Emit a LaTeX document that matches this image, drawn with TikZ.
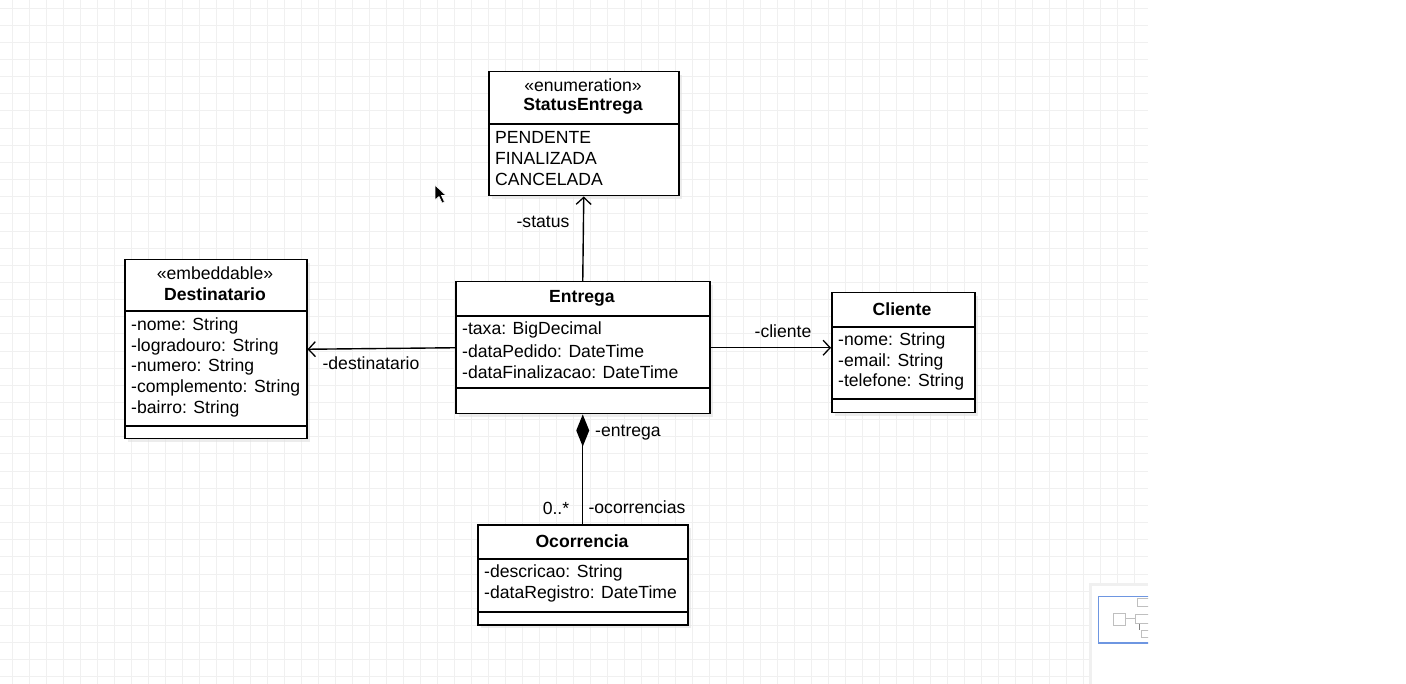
\documentclass[tikz,border=0pt]{standalone}
\usepackage{fontspec}
\setmainfont{Liberation Sans}
\usetikzlibrary{arrows.meta,shadows}

\newcommand{\diagfont}{\fontsize{17.6}{21}\selectfont}

\tikzset{
  gridline/.style={draw=black!6,line width=0.8pt},
  classbox/.style={draw,line width=1.5pt,fill=white,inner sep=0pt,anchor=north west,
    drop shadow={shadow xshift=3pt,shadow yshift=-3pt,fill=black!12,opacity=0.6}},
  sep/.style={line width=1.3pt},
  title/.style={font=\diagfont\bfseries,inner sep=0pt},
  stereo/.style={inner sep=0pt},
  attr/.style={anchor=west,inner sep=0pt},
  lbl/.style={inner sep=0pt},
  assoc/.style={line width=1.4pt,-{Straight Barb[length=7pt,width=15pt,line width=1.3pt]}},
  compo/.style={line width=1.4pt,{Diamond[length=32pt,width=13pt]}-},
}

\begin{document}
\begin{tikzpicture}[x=1pt,y=-1pt,font=\diagfont,line cap=butt,line join=miter]
  \useasboundingbox (0,0) rectangle (1406,684);
  \fill[white] (0,0) rectangle (1406,684);
  % background grid
  \foreach \i in {0,...,66} \draw[gridline] ({12+17*\i},0) -- ({12+17*\i},684);
  \foreach \j in {0,...,39} \draw[gridline] (0,{8+17.15*\j}) -- (1148,{8+17.15*\j});

  % StatusEntrega
  \node[classbox,minimum width=190pt,minimum height=124pt] (status) at (488,71) {};
  \draw[sep] (488,124) -- (678,124);
  \node[stereo] (statusst) at (583,85) {«enumeration»};
  \node[title] (statust) at (583,106) {StatusEntrega};
  \node[attr] (pendente) at (495,137) {PENDENTE};
  \node[attr] (finalizada) at (495,158) {FINALIZADA};
  \node[attr] (cancelada) at (495,179) {CANCELADA};

  % Destinatario
  \node[classbox,minimum width=182pt,minimum height=179pt] (dest) at (124,259) {};
  \draw[sep] (124,311) -- (306,311);
  \draw[sep] (124,426) -- (306,426);
  \node[stereo] (destst) at (215,273) {«embeddable»};
  \node[title] (destt) at (215,294) {Destinatario};
  \node[attr] (dnome) at (131,326) {-nome: String};
  \node[attr] (dlog) at (131,347) {-logradouro: String};
  \node[attr] (dnum) at (131,367) {-numero: String};
  \node[attr] (dcompl) at (131,388) {-complemento: String};
  \node[attr] (dbairro) at (131,409) {-bairro: String};

  % Entrega
  \node[classbox,minimum width=254pt,minimum height=132pt] (entrega) at (455,281) {};
  \draw[sep] (455,316) -- (709,316);
  \draw[sep] (455,388) -- (709,388);
  \node[title] (entregat) at (582,298) {Entrega};
  \node[attr] (etaxa) at (462,330) {-taxa: BigDecimal};
  \node[attr] (epedido) at (462,351) {-dataPedido: DateTime};
  \node[attr] (efinal) at (462,372) {-dataFinalizacao: DateTime};

  % Cliente
  \node[classbox,minimum width=143pt,minimum height=120pt] (cliente) at (831,292) {};
  \draw[sep] (831,327) -- (974,327);
  \draw[sep] (831,399) -- (974,399);
  \node[title] (clientet) at (902,309) {Cliente};
  \node[attr] (cnome) at (838,341) {-nome: String};
  \node[attr] (cemail) at (838,362) {-email: String};
  \node[attr] (ctel) at (838,382) {-telefone: String};

  % Ocorrencia
  \node[classbox,minimum width=210pt,minimum height=100pt] (ocorr) at (477,524) {};
  \draw[sep] (477,559) -- (687,559);
  \draw[sep] (477,612) -- (687,612);
  \node[title] (ocorrt) at (582,541) {Ocorrencia};
  \node[attr] (odesc) at (484,573) {-descricao: String};
  \node[attr] (oreg) at (484,594) {-dataRegistro: DateTime};

  % associations
  \draw[assoc] (entrega.north) -- (status.south);
  \draw[assoc] (entrega.west) -- (dest.east);
  \draw[assoc] (entrega.east) -- (entrega.east -| cliente.west);
  \draw[compo] (entrega.south) -- (ocorr.north);
  \node[lbl] (lstatus) at (543,222) {-status};
  \node[lbl] (ldest) at (371,363) {-destinatario};
  \node[lbl] (lcliente) at (783,331) {-cliente};
  \node[lbl] (lentrega) at (628,433) {-entrega};
  \node[lbl] (lmult) at (556,508) {0..*};
  \node[lbl] (locorr) at (637,507) {-ocorrencias};

  % mouse pointer
  \filldraw[fill=black,draw=white,line width=0.6pt] (435,185) -- (435,200) -- (439,196.5) -- (442,203) -- (444.5,202) -- (441.5,195.5) -- (446,195.5) -- cycle;

  % overview panel
  \fill[black!6] (1089,583) rectangle (1148,684);
  \fill[white] (1092,586) rectangle (1148,684);
  \begin{scope}
    \clip (1092,586) rectangle (1148,684);
    \draw[black!25,line width=0.4pt] (1113,613) rectangle (1125,625);
    \draw[black!25,line width=0.4pt] (1135,614) rectangle (1152,623);
    \draw[black!25,line width=0.4pt] (1137,598) rectangle (1150,606);
    \draw[black!25,line width=0.4pt] (1141,630) rectangle (1155,637);
    \draw[black!25,line width=0.4pt] (1125,618) -- (1135,618);
    \draw[black!50,line width=0.8pt] (1139,624) -- (1139,630);
    \draw[color={rgb,255:red,110;green,150;blue,225},line width=1.4pt] (1098.5,596.5) rectangle (1160,643);
  \end{scope}
\end{tikzpicture}
\end{document}
